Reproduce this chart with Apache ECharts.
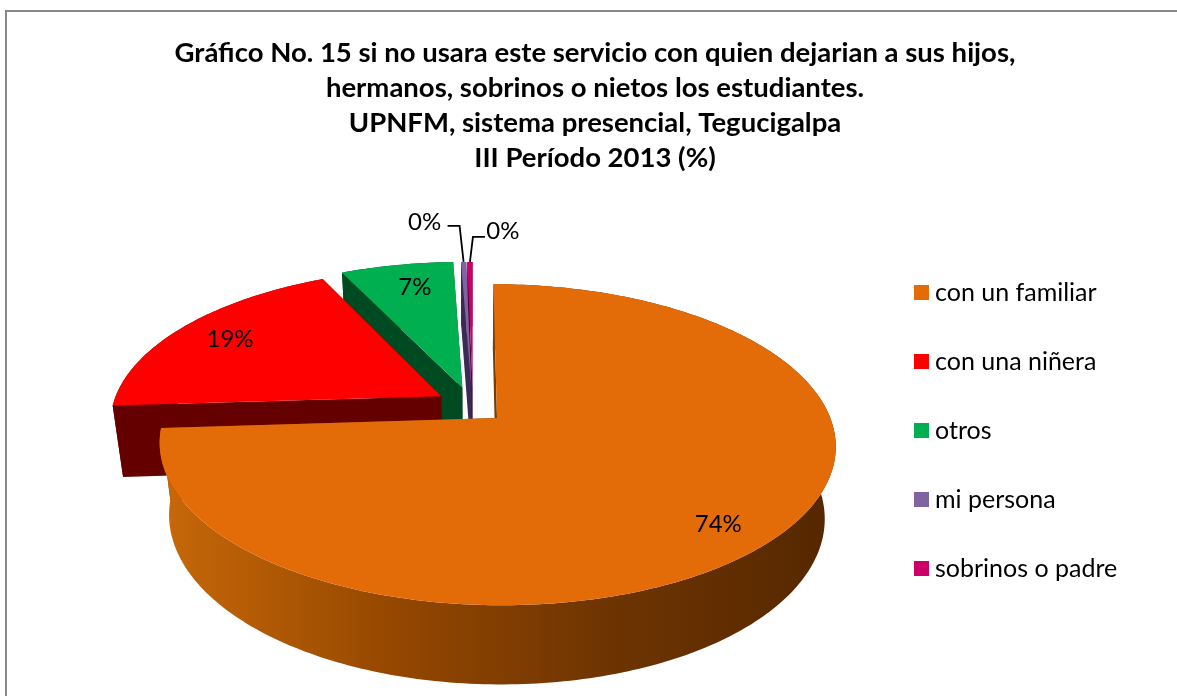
<!DOCTYPE html>
<html>
<head>
<meta charset="utf-8">
<title>Gráfico No. 15</title>
<script src="https://cdn.jsdelivr.net/npm/echarts@6/dist/echarts.min.js"></script>
<style>
	html,body{margin:0;padding:0;background:#fff;}
	#chart{width:1177px;height:696px;}
</style>
</head>
<body>
<div id="chart"></div>
<script>
	var titleLines = [
		"Gráfico No. 15 si no usara este servicio con quien dejarian a sus hijos,",
		"hermanos, sobrinos o nietos los estudiantes.",
		"UPNFM, sistema presencial, Tegucigalpa",
		"III Período 2013 (%)"
	];
	var categories = ["con un familiar","con una niñera","otros","mi persona","sobrinos o padre"];
	var values = [74, 18.9, 6.5, 0.3, 0.3];

	var topColors = ["#E36C09","#FF0000","#00B050","#8064A2","#CC0066"];
	var wallColors = ["#7a3a03","#640000","#004A22","#3A2A55","#4A0A35"];
	// explosion of each slice on the disc, in radius units
	var offsetU = [0.075,-0.0945,-0.03,-0.002,0.002];
	var offsetV = [0.06,-0.083,-0.14,-0.14,-0.14];
	// where the percent label sits: inside at radius r, or outside with a leader line
	var labelR = [0.85,0.81,0.79,null,null];
	var labelTurn = [3,0,1.5,0,0];
	var leader = [null,null,null,
		{elbow:[-4,-36],end:[-16,-36],text:[-39,-40]},
		{elbow:[3,-25],end:[15,-25],text:[33,-31]}];

	// perspective of the tilted disc
	var cx = 472, cy = 408.7, R = 330, S = 153, k = 0.165, m = 0.03, H = 73.6;

	function project(u,v,z){
		var w = 1 - k*v + m*z;
		return [cx + R*u/w, cy + (S*v + H*z)/w];
	}
	function rimPoint(i,deg,z){
		var a = deg*Math.PI/180;
		return project(offsetU[i]+Math.sin(a), offsetV[i]-Math.cos(a), z);
	}
	function startAngle(i){
		var sum = 0;
		for(var j=0;j<i;j++){ sum += values[j]; }
		return sum*3.6;
	}

	function renderSlice(i){
		return function(params,api){
			var from = startAngle(i);
			var to = from + api.value(0)*3.6;
			var apexTop = project(offsetU[i],offsetV[i],0);
			var apexBottom = project(offsetU[i],offsetV[i],1);
			var rimTop = [], rimBottom = [];
			var steps = Math.max(2,Math.ceil(to-from));
			for(var s=0;s<=steps;s++){
				var d = from + (to-from)*s/steps;
				rimTop.push(rimPoint(i,d,0));
				rimBottom.push(rimPoint(i,d,1));
			}
			var wallFill = wallColors[i];
			if(i==0){
				wallFill = new echarts.graphic.LinearGradient(160,0,836,0,[
					{offset:0,color:"#C86809"},
					{offset:0.35,color:"#944700"},
					{offset:0.65,color:"#6f3502"},
					{offset:1,color:"#552700"}
				],true);
			}
			var children = [
				{type:"polygon",shape:{points:[apexTop,rimTop[0],rimBottom[0],apexBottom]},style:{fill:wallColors[i]}},
				{type:"polygon",shape:{points:[apexTop,rimTop[steps],rimBottom[steps],apexBottom]},style:{fill:wallColors[i]}},
				{type:"polygon",shape:{points:rimTop.concat(rimBottom.slice().reverse())},style:{fill:wallFill}},
				{type:"polygon",shape:{points:[apexTop].concat(rimTop)},style:{fill:topColors[i]}}
			];
			var mid = ((from+to)/2+labelTurn[i])*Math.PI/180;
			var label = Math.round(api.value(0))+"%";
			var pos;
			if(labelR[i]!==null){
				pos = project(offsetU[i]+labelR[i]*Math.sin(mid), offsetV[i]-labelR[i]*Math.cos(mid), 0);
			}else{
				var anchor = rimPoint(i,(from+to)/2,0);
				var l = leader[i];
				pos = [anchor[0]+l.text[0],anchor[1]+l.text[1]];
				children.push({type:"polyline",shape:{points:[
					anchor,
					[anchor[0]+l.elbow[0],anchor[1]+l.elbow[1]],
					[anchor[0]+l.end[0],anchor[1]+l.end[1]]
				]},style:{fill:null,stroke:"#000",lineWidth:1.8}});
			}
			children.push({type:"text",x:pos[0],y:pos[1],style:{
				text:label,fill:"#000",font:"24px Lato",textAlign:"center",textVerticalAlign:"middle"
			}});
			return {type:"group",children:children};
		};
	}

	var series = [];
	for(var i=0;i<categories.length;i++){
		series.push({
			name:categories[i],
			type:"custom",
			coordinateSystem:"none",
			z:i==0?9:(8-i),
			animation:false,
			silent:true,
			itemStyle:{color:topColors[i]},
			renderItem:renderSlice(i),
			data:[[values[i]]]
		});
	}

	var chart = echarts.init(document.getElementById("chart"));
	chart.setOption({
		backgroundColor:"#fff",
		animation:false,
		title:{
			text:titleLines.join("\n"),
			left:590,
			top:31,
			textAlign:"center",
			textStyle:{fontFamily:"Lato",fontWeight:"bold",fontSize:27.5,lineHeight:35,color:"#000"}
		},
		legend:{
			data:categories,
			orient:"vertical",
			left:909,
			top:275,
			icon:"rect",
			itemWidth:15,
			itemHeight:15,
			itemGap:44,
			textStyle:{fontFamily:"Lato",fontSize:25,color:"#000",padding:[0,0,0,1]}
		},
		graphic:[{
			type:"polyline",
			silent:true,
			shape:{points:[[6,696],[6,11],[1177,11]]},
			style:{fill:null,stroke:"#878787",lineWidth:2}
		}],
		series:series
	});
</script>
</body>
</html>
